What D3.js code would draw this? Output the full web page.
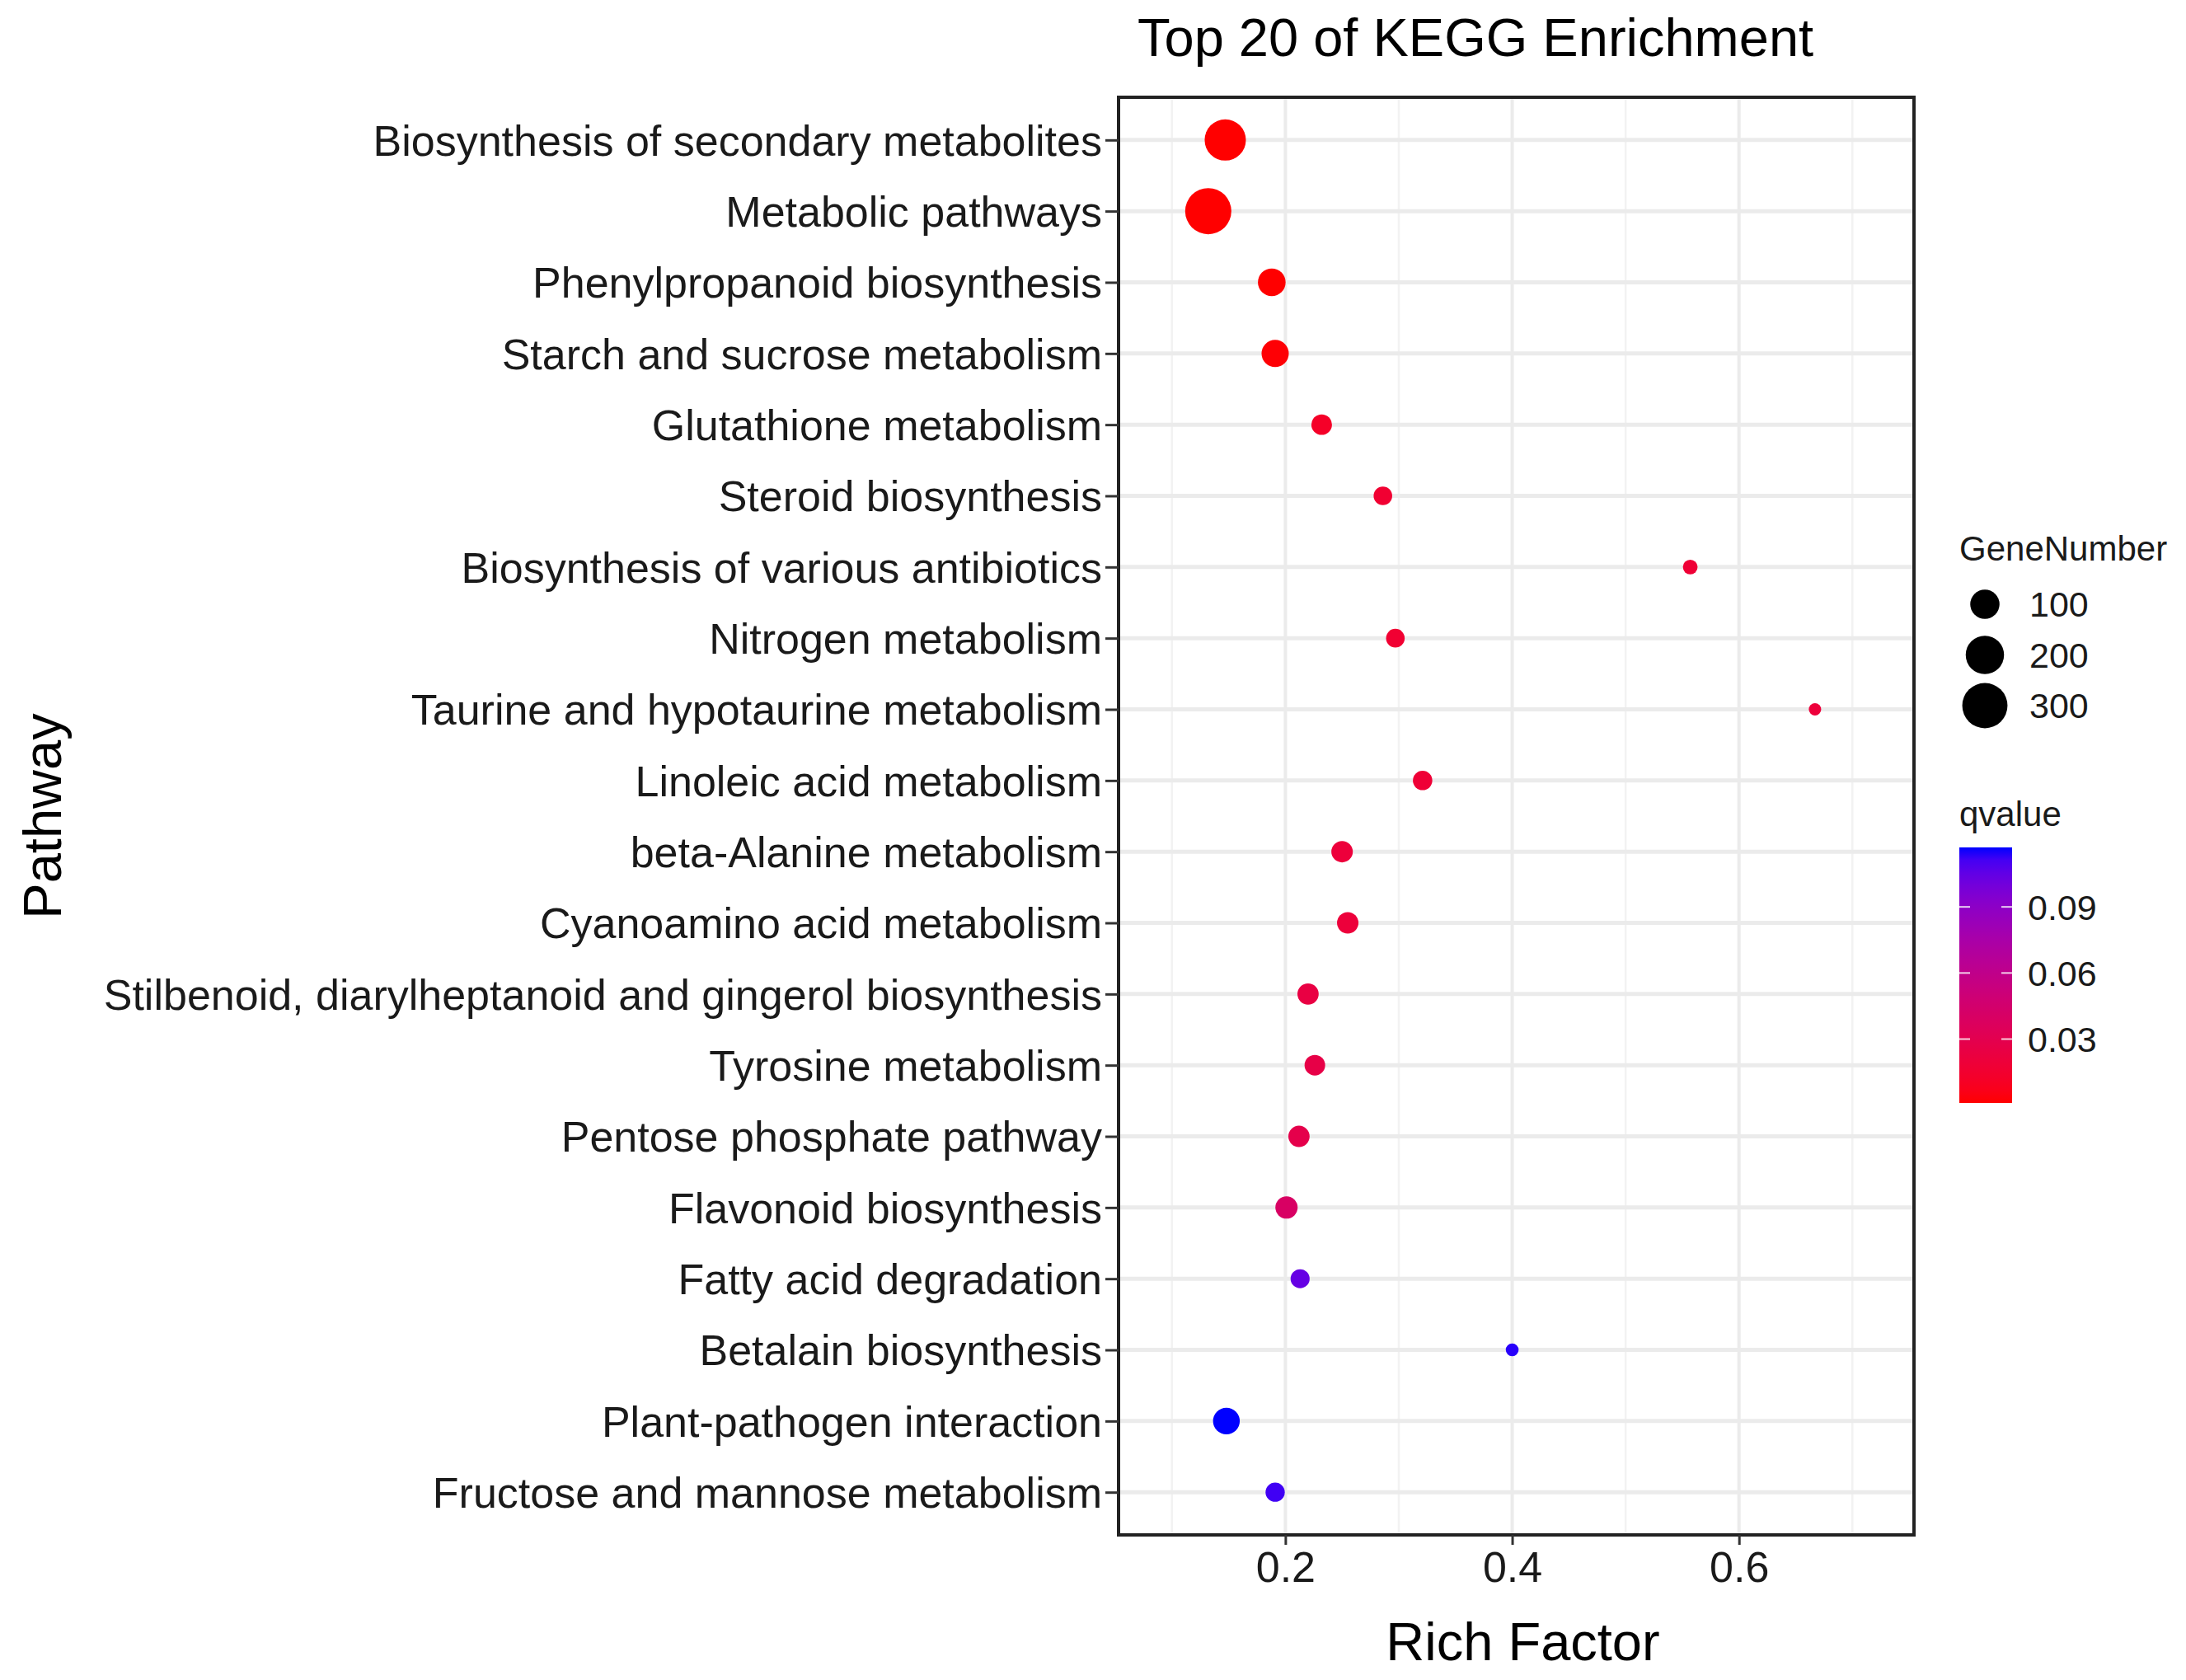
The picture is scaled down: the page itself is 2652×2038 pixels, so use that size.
<!DOCTYPE html>
<html>
<head>
<meta charset="utf-8">
<script src="https://cdn.jsdelivr.net/npm/d3@7"></script>
<style>
  html, body { margin: 0; padding: 0; background: #fff; }
  svg text { font-family: "Liberation Sans", Arial, Helvetica, sans-serif; }
</style>
</head>
<body>
<svg id="chart" width="2652" height="2038"></svg>
<script>
// ---------------- data ----------------
const pathways = [
  "Biosynthesis of secondary metabolites",
  "Metabolic pathways",
  "Phenylpropanoid biosynthesis",
  "Starch and sucrose metabolism",
  "Glutathione metabolism",
  "Steroid biosynthesis",
  "Biosynthesis of various antibiotics",
  "Nitrogen metabolism",
  "Taurine and hypotaurine metabolism",
  "Linoleic acid metabolism",
  "beta-Alanine metabolism",
  "Cyanoamino acid metabolism",
  "Stilbenoid, diarylheptanoid and gingerol biosynthesis",
  "Tyrosine metabolism",
  "Pentose phosphate pathway",
  "Flavonoid biosynthesis",
  "Fatty acid degradation",
  "Betalain biosynthesis",
  "Plant-pathogen interaction",
  "Fructose and mannose metabolism"
];
const richFactor = [0.147, 0.132, 0.188, 0.191, 0.232, 0.286, 0.557, 0.297, 0.667, 0.321,
                    0.250, 0.255, 0.220, 0.226, 0.212, 0.201, 0.213, 0.400, 0.148, 0.191];
const geneNumber = [240, 315, 86, 82, 36, 26, 11, 26, 5, 30,
                    41, 41, 40, 36, 40, 46, 28, 6, 78, 29];
const qvalue = [0.001, 0.001, 0.001, 0.002, 0.012, 0.016, 0.018, 0.016, 0.020, 0.018,
                0.020, 0.020, 0.024, 0.026, 0.028, 0.040, 0.104, 0.115, 0.117, 0.112];
const xTicks = [0.2, 0.4, 0.6];
const xMinorTicks = [0.1, 0.3, 0.5, 0.7];
const sizeBreaks = [100, 200, 300];
const qBreaks = [0.03, 0.06, 0.09];
const xDomain = [0.0529, 0.7543];
const qDomain = [0.001, 0.117];

// ---------------- layout ----------------
const W = 2652, H = 2038;
const P = { left: 1357, right: 2322, top: 118, bottom: 1862 };
const svg = d3.select("#chart");
svg.append("rect").attr("width", W).attr("height", H).attr("fill", "#fff");

const x = d3.scaleLinear().domain(xDomain).range([P.left, P.right]);
const y = d3.scalePoint().domain(pathways).range([P.top, P.bottom]).padding(0.6);
const r = d3.scaleSqrt().domain(d3.extent(geneNumber)).range([7.5, 28]);
const color = d3.scaleLinear().domain(qDomain).range(["#FF0000", "#0000FF"]).interpolate(d3.interpolateLab);

const data = pathways.map((p, i) => ({ p, rf: richFactor[i], g: geneNumber[i], q: qvalue[i] }));

// gridlines
const grid = svg.append("g");
grid.selectAll("line.minor").data(xMinorTicks).join("line")
  .attr("x1", d => x(d)).attr("x2", d => x(d))
  .attr("y1", P.top).attr("y2", P.bottom)
  .attr("stroke", "#F2F2F2").attr("stroke-width", 2.5);
grid.selectAll("line.majorx").data(xTicks).join("line")
  .attr("x1", d => x(d)).attr("x2", d => x(d))
  .attr("y1", P.top).attr("y2", P.bottom)
  .attr("stroke", "#EBEBEB").attr("stroke-width", 4);
grid.selectAll("line.majory").data(pathways).join("line")
  .attr("x1", P.left).attr("x2", P.right)
  .attr("y1", d => y(d)).attr("y2", d => y(d))
  .attr("stroke", "#EBEBEB").attr("stroke-width", 5);

// points
svg.append("g").selectAll("circle").data(data).join("circle")
  .attr("cx", d => x(d.rf)).attr("cy", d => y(d.p))
  .attr("r", d => r(d.g)).attr("fill", d => color(d.q));

// panel border
svg.append("rect").attr("x", P.left).attr("y", P.top)
  .attr("width", P.right - P.left).attr("height", P.bottom - P.top)
  .attr("fill", "none").attr("stroke", "#222").attr("stroke-width", 4);

// axes
const yAxis = d3.axisLeft(y).tickSize(16).tickPadding(4);
const gy = svg.append("g").attr("transform", `translate(${P.left},0)`).call(yAxis);
gy.select(".domain").remove();
gy.selectAll(".tick line").attr("stroke", "#333").attr("stroke-width", 3);
gy.selectAll(".tick text").attr("font-size", 52).attr("fill", "#1a1a1a")
  .attr("dy", "0.35em").attr("font-family", "Liberation Sans, Arial, sans-serif");

const xAxis = d3.axisBottom(x).tickValues(xTicks).tickFormat(d3.format(".1f")).tickSize(12).tickPadding(8);
const gx = svg.append("g").attr("transform", `translate(0,${P.bottom})`).call(xAxis);
gx.select(".domain").remove();
gx.selectAll(".tick line").attr("stroke", "#333").attr("stroke-width", 3);
gx.selectAll(".tick text").attr("font-size", 52).attr("fill", "#1a1a1a")
  .attr("font-family", "Liberation Sans, Arial, sans-serif");

// titles
svg.append("text").attr("x", 1380).attr("y", 68).attr("font-size", 65).attr("fill", "#000")
  .text("Top 20 of KEGG Enrichment");
svg.append("text").attr("x", (P.left + P.right) / 2 + 8).attr("y", 2014).attr("text-anchor", "middle")
  .attr("font-size", 65).attr("fill", "#000").text("Rich Factor");
svg.append("text").attr("transform", `translate(74,${(P.top + P.bottom) / 2}) rotate(-90)`)
  .attr("text-anchor", "middle").attr("font-size", 65).attr("fill", "#000").text("Pathway");

// size legend
const lg = svg.append("g");
lg.append("text").attr("x", 2377).attr("y", 680).attr("font-size", 42).attr("fill", "#1a1a1a").text("GeneNumber");
const legY = d3.scalePoint().domain(sizeBreaks).range([733, 856]);
lg.selectAll("circle").data(sizeBreaks).join("circle")
  .attr("cx", 2408).attr("cy", d => legY(d)).attr("r", d => r(d)).attr("fill", "#000");
lg.selectAll("text.lab").data(sizeBreaks).join("text").attr("class", "lab")
  .attr("x", 2462).attr("y", d => legY(d)).attr("dy", "0.36em")
  .attr("font-size", 43).attr("fill", "#1a1a1a").text(d => d);

// colour legend
lg.append("text").attr("x", 2377).attr("y", 1002).attr("font-size", 42).attr("fill", "#1a1a1a").text("qvalue");
const cb = { x: 2377, w: 64, top: 1028, bottom: 1338 };
const cy = d3.scaleLinear().domain(qDomain).range([cb.bottom, cb.top]);
const defs = svg.append("defs");
const grad = defs.append("linearGradient").attr("id", "qgrad")
  .attr("x1", 0).attr("y1", 1).attr("x2", 0).attr("y2", 0);
const stops = d3.range(0, 1.0001, 0.05);
grad.selectAll("stop").data(stops).join("stop")
  .attr("offset", d => d)
  .attr("stop-color", d => color(qDomain[0] + d * (qDomain[1] - qDomain[0])));
lg.append("rect").attr("x", cb.x).attr("y", cb.top).attr("width", cb.w).attr("height", cb.bottom - cb.top)
  .attr("fill", "url(#qgrad)");
lg.selectAll("line.tl").data(qBreaks).join("line").attr("class", "tl")
  .attr("x1", cb.x).attr("x2", cb.x + 13).attr("y1", d => cy(d)).attr("y2", d => cy(d))
  .attr("stroke", "#fff").attr("stroke-width", 2).attr("opacity", 0.8);
lg.selectAll("line.tr").data(qBreaks).join("line").attr("class", "tr")
  .attr("x1", cb.x + cb.w - 13).attr("x2", cb.x + cb.w).attr("y1", d => cy(d)).attr("y2", d => cy(d))
  .attr("stroke", "#fff").attr("stroke-width", 2).attr("opacity", 0.8);
lg.selectAll("text.ql").data(qBreaks).join("text").attr("class", "ql")
  .attr("x", 2460).attr("y", d => cy(d)).attr("dy", "0.36em")
  .attr("font-size", 43).attr("fill", "#1a1a1a").text(d => d3.format(".2f")(d));
</script>
</body>
</html>
